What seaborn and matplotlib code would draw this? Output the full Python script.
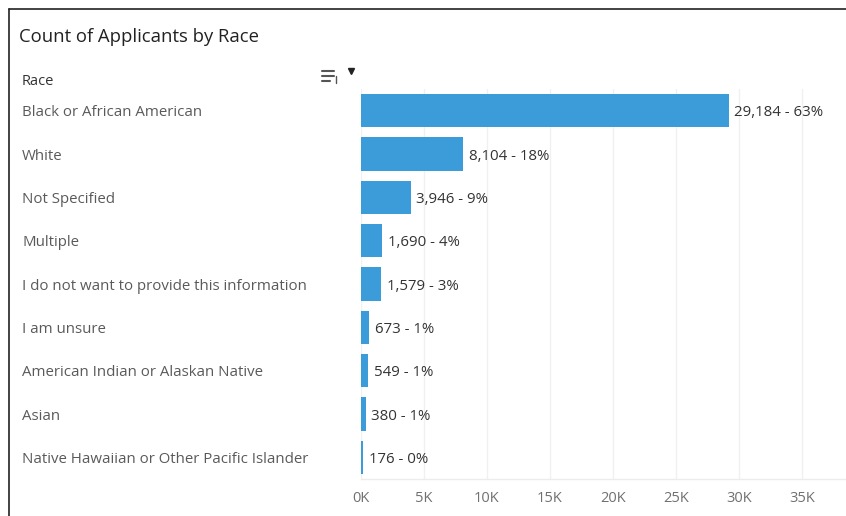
import matplotlib
matplotlib.use("Agg")
import matplotlib.pyplot as plt
import pandas as pd
import seaborn as sns
from matplotlib.lines import Line2D
from matplotlib import transforms

races = [
    "Black or African American",
    "White",
    "Not Specified",
    "Multiple",
    "I do not want to provide this information",
    "I am unsure",
    "American Indian or Alaskan Native",
    "Asian",
    "Native Hawaiian or Other Pacific Islander",
]
counts = [29184, 8104, 3946, 1690, 1579, 673, 549, 380, 176]
pcts = [63, 18, 9, 4, 3, 1, 1, 1, 0]
xticks = [0, 5000, 10000, 15000, 20000, 25000, 30000, 35000]
xtick_labels = ["0K", "5K", "10K", "15K", "20K", "25K", "30K", "35K"]

df = pd.DataFrame({"Race": races, "Count": counts})

sns.set_theme(style="white")
plt.rcParams["font.family"] = ["Open Sans", "DejaVu Sans"]

W, H = 846, 516
fig = plt.figure(figsize=(W / 100, H / 100), dpi=100)

# plot area in pixel units -> figure fractions
left, right, top, bottom = 361, 846, 89, 479
ax = fig.add_axes([left / W, 1 - bottom / H, (right - left) / W, (bottom - top) / H])

bar_color = "#3c9bd9"
sns.barplot(data=df, x="Count", y="Race", orient="h", color=bar_color,
            width=0.77, saturation=1, ax=ax, zorder=3, linewidth=0)

ax.set_xlim(0, 38500)
ax.set_xticks(xticks)
ax.set_xticklabels(xtick_labels, color="#707070", fontsize=10.5)
ax.tick_params(axis="x", length=0, pad=9)
ax.set_yticks([])
ax.set_xlabel("")
ax.set_ylabel("")
for s in ["top", "right", "left"]:
    ax.spines[s].set_visible(False)
ax.spines["bottom"].set_color("#ececec")
ax.spines["bottom"].set_linewidth(1)
for xt in xticks:
    ax.axvline(xt, color="#f0f0f0", lw=1, zorder=0)

# value labels (nudged down a touch to sit on the bar centre)
for i, (c, p) in enumerate(zip(counts, pcts)):
    ax.text(c + 450, i + 0.05, f"{c:,} - {p}%", va="center", ha="left",
            fontsize=10.8, color="#333333", zorder=4)

# category labels on left
trans = transforms.blended_transform_factory(fig.transFigure, ax.transData)
for i, r in enumerate(races):
    ax.text(22 / W, i + 0.05, r, transform=trans, va="center", ha="left",
            fontsize=10.8, color="#5a5a5a", clip_on=False)

# header and title
fig.text(22 / W, 1 - 81 / H, "Race", fontsize=10.5, color="#333333", va="center", ha="left")
fig.text(19 / W, 1 - 37 / H, "Count of Applicants by Race", fontsize=13.3,
         color="#222222", va="center", ha="left")

# sort icon
icon_col = "#555555"
for y0, x1 in [(71, 334), (76, 334), (81, 330)]:
    fig.add_artist(Line2D([322 / W, x1 / W], [1 - y0 / H, 1 - y0 / H], color=icon_col, lw=1.5))
fig.add_artist(Line2D([336 / W, 336 / W], [1 - 76 / H, 1 - 83 / H], color=icon_col, lw=1))
fig.add_artist(Line2D([351 / W], [1 - 71 / H], marker="v", color="#222222",
                      markersize=5, linestyle="none"))

# border
fig.add_artist(Line2D([9 / W, 9 / W], [0, 1 - 9 / H], color="#222222", lw=1.2))
fig.add_artist(Line2D([9 / W, 1], [1 - 9 / H, 1 - 9 / H], color="#222222", lw=1.2))

fig.savefig("out.png", dpi=100)
